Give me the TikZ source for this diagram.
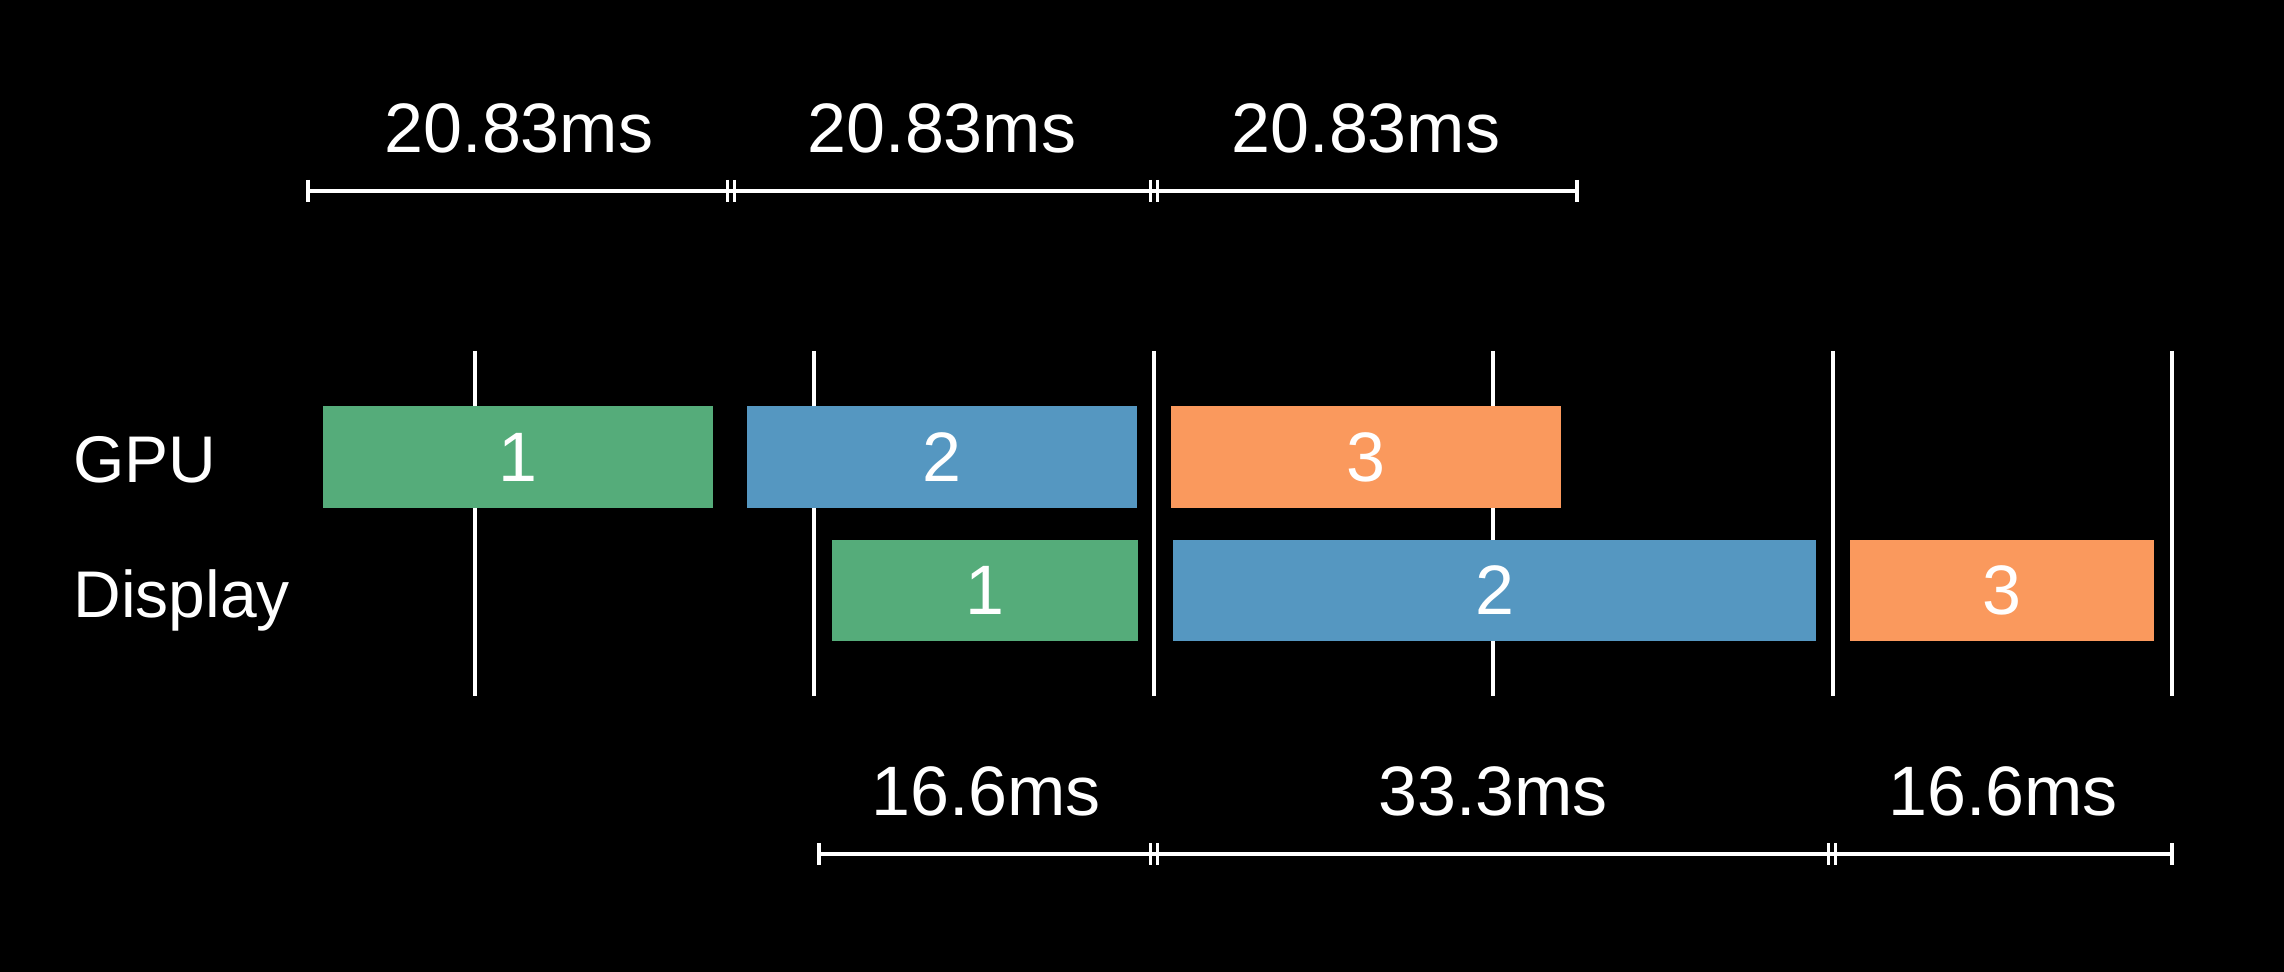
\documentclass[tikz,border=0pt]{standalone}
\usepackage{fontspec}
\setmainfont{Liberation Sans}
\definecolor{gbar}{RGB}{85,172,122}
\definecolor{bbar}{RGB}{85,151,193}
\definecolor{obar}{RGB}{250,153,93}
\tikzset{
  bar/.style={inner sep=0pt, text=white, font=\fontsize{35}{40}\selectfont},
  gpubar/.style={bar, minimum width=195pt, minimum height=51pt},
  dispbar/.style={bar, minimum height=50.5pt},
  lbl/.style={text=white, inner sep=0pt, font=\fontsize{35}{40}\selectfont},
  rowlbl/.style={text=white, inner sep=0pt, font=\fontsize{33}{40}\selectfont},
  vline/.style={draw=white, line width=2pt},
  dimline/.style={draw=white, line width=2pt},
  tick/.style={draw=white, line width=1.8pt},
}
\begin{document}
\begin{tikzpicture}[x=0.5pt,y=-0.5pt]
\fill[black] (0,0) rectangle (2284,972);
\useasboundingbox (0,0) rectangle (2284,972);
% vertical frame lines
\foreach \x in {475,814.4,1153.8,1493.2,1832.6,2172}
  \draw[vline] (\x,351) -- (\x,696);
% GPU bars
\node[gpubar, fill=gbar] (g1) at (518,457) {1};
\node[gpubar, fill=bbar] (g2) at (942,457) {2};
\node[gpubar, fill=obar] (g3) at (1366,457) {3};
% Display bars
\node[dispbar, fill=gbar, minimum width=153pt] (d1) at (985,590.5) {1};
\node[dispbar, fill=bbar, minimum width=321.5pt] (d2) at (1494.5,590.5) {2};
\node[dispbar, fill=obar, minimum width=152pt] (d3) at (2002,590.5) {3};
% row labels
\node[rowlbl, anchor=base west] (gpu) at (73,483) {GPU};
\node[rowlbl, anchor=base west] (disp) at (73,617) {Display};
% top dimension
\coordinate (t0) at (308,191);
\coordinate (t1) at (731,191);
\coordinate (t2) at (1154,191);
\coordinate (t3) at (1577,191);
\draw[dimline] (t0) -- (t3);
\foreach \c in {t0,t3}
  \draw[tick] ([yshift=5.5pt]\c) -- ([yshift=-5.5pt]\c);
\foreach \c in {t1,t2}{
  \draw[tick] ([xshift=-1.8pt,yshift=5.5pt]\c) -- ([xshift=-1.8pt,yshift=-5.5pt]\c);
  \draw[tick] ([xshift=1.8pt,yshift=5.5pt]\c) -- ([xshift=1.8pt,yshift=-5.5pt]\c);
}
\node[lbl] (m1) at (519,128) {20.83ms};
\node[lbl] (m2) at (942,128) {20.83ms};
\node[lbl] (m3) at (1366,128) {20.83ms};
% bottom dimension
\coordinate (b0) at (819,854);
\coordinate (b1) at (1154,854);
\coordinate (b2) at (1832,854);
\coordinate (b3) at (2172,854);
\draw[dimline] (b0) -- (b3);
\foreach \c in {b0,b3}
  \draw[tick] ([yshift=5.5pt]\c) -- ([yshift=-5.5pt]\c);
\foreach \c in {b1,b2}{
  \draw[tick] ([xshift=-1.8pt,yshift=5.5pt]\c) -- ([xshift=-1.8pt,yshift=-5.5pt]\c);
  \draw[tick] ([xshift=1.8pt,yshift=5.5pt]\c) -- ([xshift=1.8pt,yshift=-5.5pt]\c);
}
\node[lbl] (n1) at (986,791) {16.6ms};
\node[lbl] (n2) at (1493,791) {33.3ms};
\node[lbl] (n3) at (2003,791) {16.6ms};
\end{tikzpicture}
\end{document}
